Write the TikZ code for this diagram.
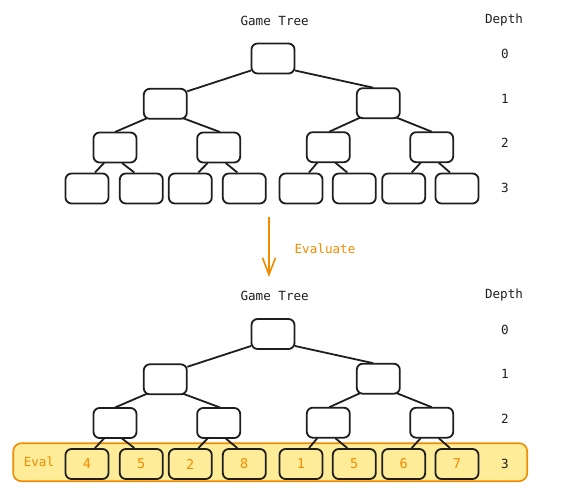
\documentclass[tikz,border=0pt]{standalone}
\usepackage{fontspec}
\setmonofont{DejaVu Sans Mono}
\usetikzlibrary{arrows.meta,calc}
\definecolor{ink}{HTML}{1E1E1E}
\definecolor{orng}{HTML}{F08C00}
\definecolor{yel}{HTML}{FFEC99}
\tikzset{
  tbox/.style={draw=ink, line width=1.8pt, rounded corners=6pt, fill=white,
    minimum width=43pt, minimum height=30pt, inner sep=0pt},
  leafbox/.style={tbox, fill=yel, text=orng},
  edge/.style={draw=ink, line width=1.8pt},
  lbl/.style={font=\ttfamily\fontsize{12.6}{14}\selectfont, text=ink, inner sep=0pt},
  olbl/.style={lbl, text=orng},
}
\begin{document}
\begin{tikzpicture}[x=1pt,y=-1pt]
\useasboundingbox (0,0) rectangle (568,497);
% evaluation band
\node[draw=orng, fill=yel, line width=1.6pt, rounded corners=8pt,
  minimum width=514pt, minimum height=38pt, inner sep=0pt] (band) at (270.2,462.2) {};
\node[olbl] (evallbl) at (39,461.7) {Eval};
% evaluate arrow
\coordinate (arrA) at (269,217);
\coordinate (arrB) at (269,277);
\draw[orng, line width=1.6pt, -{Straight Barb[length=17pt,width=13pt,line width=1.6pt]}] (arrA) -- (arrB);
\node[olbl] (evaluate) at (325,249) {Evaluate};
\foreach \o/\p in {0/t,275.5/b}{
  \node[lbl] (\p title) at (274.7,20.5+\o) {Game Tree};
  \node[lbl] (\p depth) at (504,19.7+\o) {Depth};
  \node[lbl] (\p d0) at (505,54+\o) {0};
  \node[lbl] (\p d1) at (505,98.5+\o) {1};
  \node[lbl] (\p d2) at (505,143+\o) {2};
  \node[lbl] (\p d3) at (505,188+\o) {3};
  % coordinates of node centres
  \coordinate (\p cR) at (273,58.5+\o);
  \coordinate (\p cA) at (165.3,103.8+\o);
  \coordinate (\p cB) at (378.3,103.2+\o);
  \coordinate (\p cAA) at (115,147.5+\o);
  \coordinate (\p cAB) at (218.7,147.5+\o);
  \coordinate (\p cBA) at (328.3,147.2+\o);
  \coordinate (\p cBB) at (431.7,147.2+\o);
  % edges
  \draw[edge] ([shift={(-22,12)}]\p cR) -- ([shift={(22,-12.5)}]\p cA);
  \draw[edge] ([shift={(22,12)}]\p cR) -- ([shift={(-5,-15.5)}]\p cB);
  \draw[edge] ([shift={(-18.5,14.5)}]\p cA) -- ([shift={(0,-15.5)}]\p cAA);
  \draw[edge] ([shift={(18,14.5)}]\p cA) -- ([shift={(1.3,-15.5)}]\p cAB);
  \draw[edge] ([shift={(-18.3,14.5)}]\p cB) -- ([shift={(1,-15.5)}]\p cBA);
  \draw[edge] ([shift={(18.4,14.5)}]\p cB) -- ([shift={(0,-15.5)}]\p cBB);
  \foreach \pn/\lx/\rx in {AA/87/141.3, AB/190.3/244.3, BA/301/354.3, BB/403.7/457}{
    \draw[edge] ([shift={(-11,15.5)}]\p c\pn) -- (\lx+8,172.5+\o);
    \draw[edge] ([shift={(7,15.5)}]\p c\pn) -- (\rx-7,172.5+\o);
  }
  \node[tbox] (\p R) at (\p cR) {};
  \node[tbox] (\p A) at (\p cA) {};
  \node[tbox] (\p B) at (\p cB) {};
  \node[tbox] (\p AA) at (\p cAA) {};
  \node[tbox] (\p AB) at (\p cAB) {};
  \node[tbox] (\p BA) at (\p cBA) {};
  \node[tbox] (\p BB) at (\p cBB) {};
}
% top leaves
\foreach \i/\x in {1/87,2/141.3,3/190.3,4/244.3,5/301,6/354.3,7/403.7,8/457}{
  \node[tbox] (tL\i) at (\x,188.5) {};
}
% bottom leaves with evaluations
\foreach \i/\x/\v in {1/87/4,2/141.3/5,3/190.3/2,4/244.3/8,5/301/1,6/354.3/5,7/403.7/6,8/457/7}{
  \node[leafbox, font=\ttfamily\fontsize{13.5}{15}\selectfont] (bL\i) at (\x,464) {\v};
}
\end{tikzpicture}
\end{document}
